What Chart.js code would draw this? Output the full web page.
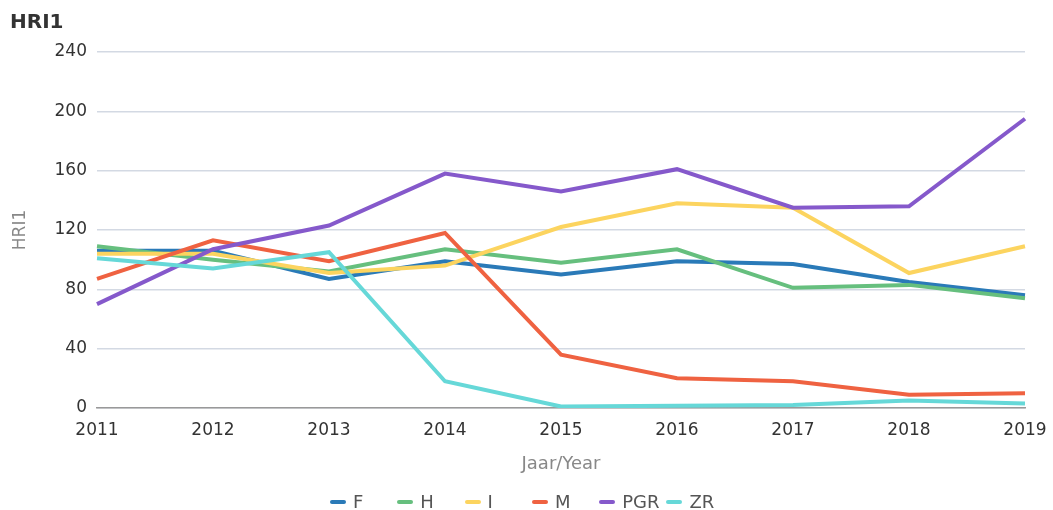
<!DOCTYPE html>
<html>
<head>
<meta charset="utf-8">
<script src="https://cdn.jsdelivr.net/npm/chart.js@4/dist/chart.umd.min.js"></script>
<style>
	body { margin: 0; background: #fff; }
	#wrap { position: relative; width: 1053px; height: 510px; }
	#legend { position: absolute; left: 330px; top: 491px; display: flex; font: 18px "DejaVu Sans", sans-serif; color: #555; }
	#legend .item { width: 67.3px; display: flex; align-items: center; white-space: nowrap; }
	#legend .box { width: 16px; height: 4px; border-radius: 2px; margin-right: 7px; }
</style>
</head>
<body>
<div id="wrap">
	<canvas id="hriChart" width="1053" height="510"></canvas>
	<div id="legend"></div>
</div>
<script>
var years = ['2011', '2012', '2013', '2014', '2015', '2016', '2017', '2018', '2019'];
var yTicks = [0, 40, 80, 120, 160, 200, 240];

var seriesF   = [106, 106, 87, 99, 90, 99, 97, 85, 76];
var seriesH   = [109, 100, 92, 107, 98, 107, 81, 83, 74];
var seriesI   = [104, 104, 91, 96, 122, 138, 135, 91, 109];
var seriesM   = [87, 113, 99, 118, 36, 20, 18, 9, 10];
var seriesPGR = [70, 107, 123, 158, 146, 161, 135, 136, 195];
var seriesZR  = [101, 94, 105, 18, 1, 1.5, 2, 5, 3];

var seriesNames = ['F', 'H', 'I', 'M', 'PGR', 'ZR'];
var seriesData = [seriesF, seriesH, seriesI, seriesM, seriesPGR, seriesZR];
var seriesColors = ['#2a7ab8', '#66bf7e', '#fcd45f', '#ef6241', '#8559cb', '#66d8d8'];

var FONT = '"DejaVu Sans", sans-serif';

var datasets = seriesNames.map(function(name, i) {
	return {
		label: name,
		data: seriesData[i],
		borderColor: seriesColors[i],
		backgroundColor: seriesColors[i],
		borderWidth: 4,
		pointRadius: 0,
		tension: 0,
		fill: false,
		order: seriesNames.length - i
	};
});

var ctx = document.getElementById('hriChart').getContext('2d');
var hriChart = new Chart(ctx, {
	type: 'line',
	data: {
		labels: years,
		datasets: datasets
	},
	options: {
		responsive: false,
		animation: false,
		layout: { padding: { left: 10, right: 28, top: 6, bottom: 31 } },
		plugins: {
			legend: { display: false },
			tooltip: { enabled: false },
			title: {
				display: true,
				text: 'HRI1',
				align: 'start',
				color: '#333',
				font: { family: FONT, size: 20, weight: 'bold' },
				padding: { top: 5, bottom: 17 }
			}
		},
		scales: {
			x: {
				afterFit: function(scale) { scale.paddingLeft = 0; scale.paddingRight = 0; },
				grid: { display: false, drawTicks: false },
				border: { display: true, color: '#999', width: 1.5 },
				ticks: { color: '#333', font: { family: FONT, size: 17 }, padding: 12, maxRotation: 0, autoSkip: false },
				title: {
					display: true,
					text: 'Jaar/Year',
					color: '#888',
					font: { family: FONT, size: 18 },
					padding: { top: 1, bottom: 4 }
				}
			},
			y: {
				min: 0,
				max: 240,
				afterBuildTicks: function(scale) {
					scale.ticks = yTicks.map(function(v) { return { value: v }; });
				},
				afterFit: function(scale) { scale.width = 87; },
				grid: { color: '#d3d9e3', lineWidth: 1.5, drawTicks: false },
				border: { display: false },
				ticks: { color: '#333', font: { family: FONT, size: 17 }, padding: 10 },
				title: {
					display: true,
					text: 'HRI1',
					color: '#888',
					font: { family: FONT, size: 17 },
					padding: { top: 0, bottom: 0 }
				}
			}
		}
	}
});

var legend = document.getElementById('legend');
seriesNames.forEach(function(name, i) {
	var item = document.createElement('div');
	item.className = 'item';
	var box = document.createElement('span');
	box.className = 'box';
	box.style.background = seriesColors[i];
	var text = document.createElement('span');
	text.textContent = name;
	item.appendChild(box);
	item.appendChild(text);
	legend.appendChild(item);
});
</script>
</body>
</html>
